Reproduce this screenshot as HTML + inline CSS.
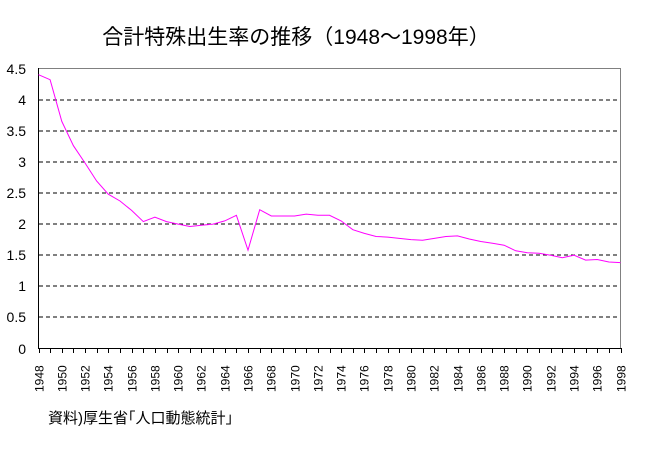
<!DOCTYPE html>
<html><head><meta charset="utf-8"><style>
body{margin:0;background:#fff;}
svg{display:block;font-family:"Liberation Sans","Noto Sans CJK JP",sans-serif;}
</style></head><body>
<svg width="669" height="472" xmlns="http://www.w3.org/2000/svg">
<text x="296" y="44" font-size="21" text-anchor="middle">合計特殊出生率の推移（1948～1998年）</text>
<g id="grid" stroke="#000" stroke-dasharray="4,3" stroke-width="1"></g>
<line x1="38.5" y1="68.5" x2="620.5" y2="68.5" stroke="#808080"/>
<line x1="620.5" y1="68" x2="620.5" y2="348" stroke="#808080"/>
<line x1="38.5" y1="68" x2="38.5" y2="348.5" stroke="#000"/>
<line x1="38" y1="348.5" x2="621" y2="348.5" stroke="#000"/>
<g id="ticks" stroke="#000"></g>
<g id="yl" font-size="14" text-anchor="end"></g>
<g id="xl" font-size="12"></g>
<polyline id="line" fill="none" stroke="#ff00ff" stroke-width="1"/>
<text x="48" y="423" font-size="15">資料)厚生省｢人口動態統計｣</text>
<script>
var ns="http://www.w3.org/2000/svg";
function el(t,a,p,txt){var e=document.createElementNS(ns,t);for(var k in a)e.setAttribute(k,a[k]);if(txt)e.textContent=txt;document.getElementById(p).appendChild(e);}
var x0=38.5,dx=(620.5-38.5)/50,yb=348.5,sc=280/4.5;
for(var i=0;i<=9;i++){var v=i*0.5,y=Math.round(yb-v*sc);
 if(i>0&&i<9)el("line",{x1:39,y1:y,x2:620,y2:y},"grid");
 el("text",{x:26,y:y+5},"yl",String(v));}
for(var i=0;i<=50;i++){var x=Math.round(x0+i*dx)+0.5;el("line",{x1:x,y1:348,x2:x,y2:353},"ticks");
 if(i%2==0){var yr=1948+i;el("text",{x:0,y:0,transform:"translate("+(x+4)+",392) rotate(-90)"},"xl",String(yr));}}
var d=[4.40,4.32,3.65,3.26,2.98,2.69,2.48,2.37,2.22,2.04,2.11,2.04,2.00,1.96,1.98,2.00,2.05,2.14,1.58,2.23,2.13,2.13,2.13,2.16,2.14,2.14,2.05,1.91,1.85,1.80,1.79,1.77,1.75,1.74,1.77,1.80,1.81,1.76,1.72,1.69,1.66,1.57,1.54,1.53,1.50,1.46,1.50,1.42,1.43,1.39,1.38];
document.getElementById("line").setAttribute("points",d.map(function(v,i){return (x0+i*dx).toFixed(1)+","+(yb-v*sc).toFixed(1);}).join(" "));
</script>
</svg>
</body></html>
